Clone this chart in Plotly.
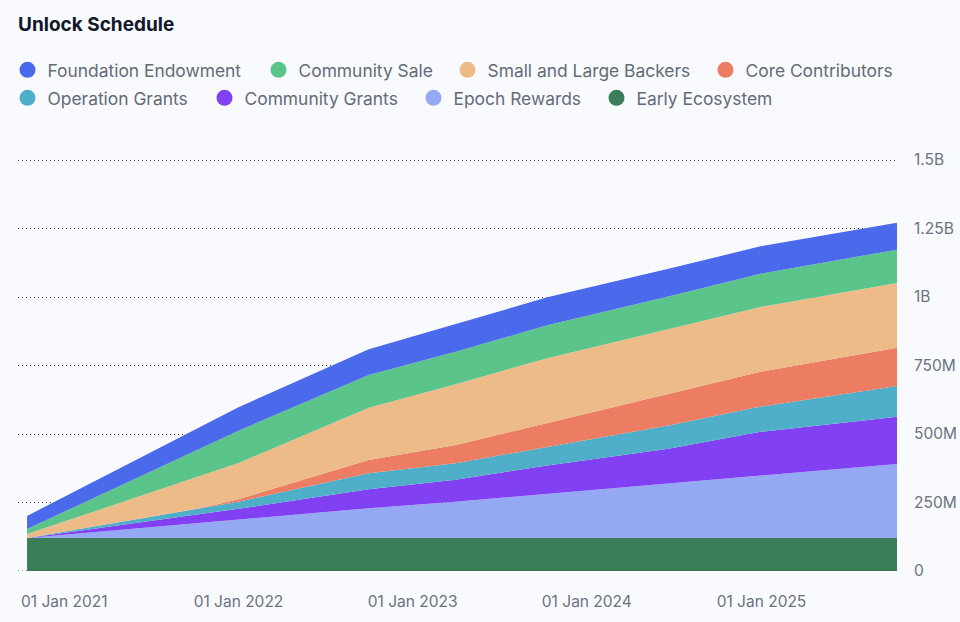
import plotly.graph_objects as go

# unlock schedule, values in millions of tokens
dates = ["2020-10-15", "2021-10-15", "2022-01-01", "2022-10-01", "2023-04-01",
         "2023-10-10", "2024-06-20", "2024-12-30", "2025-10-12"]

early_ecosystem = [120, 120, 120, 120, 120, 120, 120, 120, 120]
epoch_rewards = [0, 55, 66, 109, 133, 162, 199, 230, 271]
community_grants = [0, 34, 41, 69, 80, 103, 127, 158, 172]
operation_grants = [0, 21, 26, 59, 60, 68, 85, 92, 112]
core_contributors = [0, 0, 9, 48, 67, 87, 114, 127, 140]
backers = [15, 120, 132, 191, 222, 237, 237, 237, 236]
community_sale = [18, 101, 118, 119, 118, 120, 120, 121, 122]
foundation = [48, 79, 86, 94, 101, 102, 101, 100, 98]

y_ticks = [0, 250, 500, 750, 1000, 1250, 1500]
y_labels = ["0", "250M", "500M", "750M", "1B", "1.25B", "1.5B"]
x_ticks = ["2021-01-01", "2022-01-01", "2023-01-01", "2024-01-01", "2025-01-01"]

# bottom to top
series = [
    ("Early Ecosystem", early_ecosystem, "#3a7d58"),
    ("Epoch Rewards", epoch_rewards, "#95a8f4"),
    ("Community Grants", community_grants, "#8140f2"),
    ("Operation Grants", operation_grants, "#4fafc9"),
    ("Core Contributors", core_contributors, "#ec7d62"),
    ("Small and Large Backers", backers, "#ecbb87"),
    ("Community Sale", community_sale, "#5bc48a"),
    ("Foundation Endowment", foundation, "#4b69eb"),
]

# legend entries: (legend id, marker centre x px, row centre y px)
legend_pos = {
    "Foundation Endowment": ("legend", 28, 70),
    "Community Sale": ("legend2", 279, 70),
    "Small and Large Backers": ("legend3", 468, 70),
    "Core Contributors": ("legend4", 726, 70),
    "Operation Grants": ("legend5", 28, 98),
    "Community Grants": ("legend6", 225, 98),
    "Epoch Rewards": ("legend7", 434, 98),
    "Early Ecosystem": ("legend8", 617, 98),
}

W, H = 960, 622
L, R, T, B = 18, 63, 158, 51
grid_col = "#3d3d3d"

fig = go.Figure()
for name, vals, col in series:
    fig.add_trace(go.Scatter(
        x=dates, y=vals, name=name, stackgroup="one", mode="lines",
        line=dict(width=0, color=col), fillcolor=col,
        legendgroup=name, showlegend=False,
        hovertemplate="%{y:.0f}M<extra>" + name + "</extra>",
    ))

layout_legends = {}
for name, vals, col in series:
    lid, mx, my = legend_pos[name]
    fig.add_trace(go.Scatter(
        x=[None], y=[None], name=name, mode="markers",
        marker=dict(color=col, size=16, symbol="circle"),
        legendgroup=name, legend=lid, hoverinfo="skip",
    ))
    layout_legends[lid] = dict(
        xref="container", yref="container",
        x=(mx - 20.5) / W, y=1 - my / H,
        xanchor="left", yanchor="middle", orientation="h",
        bgcolor="rgba(0,0,0,0)", borderwidth=0,
        font=dict(family="Inter", size=17.4, color="#646b78"),
    )

fig.update_layout(
    width=W, height=H,
    margin=dict(l=L, r=R, t=T, b=B, autoexpand=False),
    paper_bgcolor="#f8fafd", plot_bgcolor="#f8fafd",
    font=dict(family="Inter", size=15, color="#6b7280"),
    title=dict(text="<b>Unlock Schedule</b>", xref="container", yref="container",
               x=L / W, y=1 - 24 / H, xanchor="left", yanchor="middle",
               font=dict(family="Inter", size=19, color="#111827")),
    hovermode="x unified",
    # dotted baseline stays visible over the bottom area
    shapes=[dict(type="line", xref="paper", x0=0, x1=1, yref="y", y0=0, y1=0,
                 layer="above", line=dict(color=grid_col, width=1, dash="1px,3px"))],
    **layout_legends,
)
fig.update_xaxes(
    type="date", range=["2020-09-26", "2025-10-12"],
    tickvals=x_ticks, tickformat="%d %b %Y",
    showgrid=False, showline=False, zeroline=False, ticks="",
    ticklabelstandoff=19, automargin=False,
    tickfont=dict(size=15.5, color="#6b7280"),
)
# top of range a little above 1.5B so its grid line is not clipped at the edge
fig.update_yaxes(
    side="right", range=[0, 1507.5], tickvals=y_ticks, ticktext=y_labels,
    showgrid=True, gridcolor=grid_col, gridwidth=1, griddash="1px,3px",
    zeroline=False, showline=False, ticks="", ticklabelstandoff=16,
    automargin=False,
    tickfont=dict(size=15.5, color="#6b7280"),
)

fig.write_html("out.html", config={"displayModeBar": False},
               post_script="document.body.style.margin='0';")
